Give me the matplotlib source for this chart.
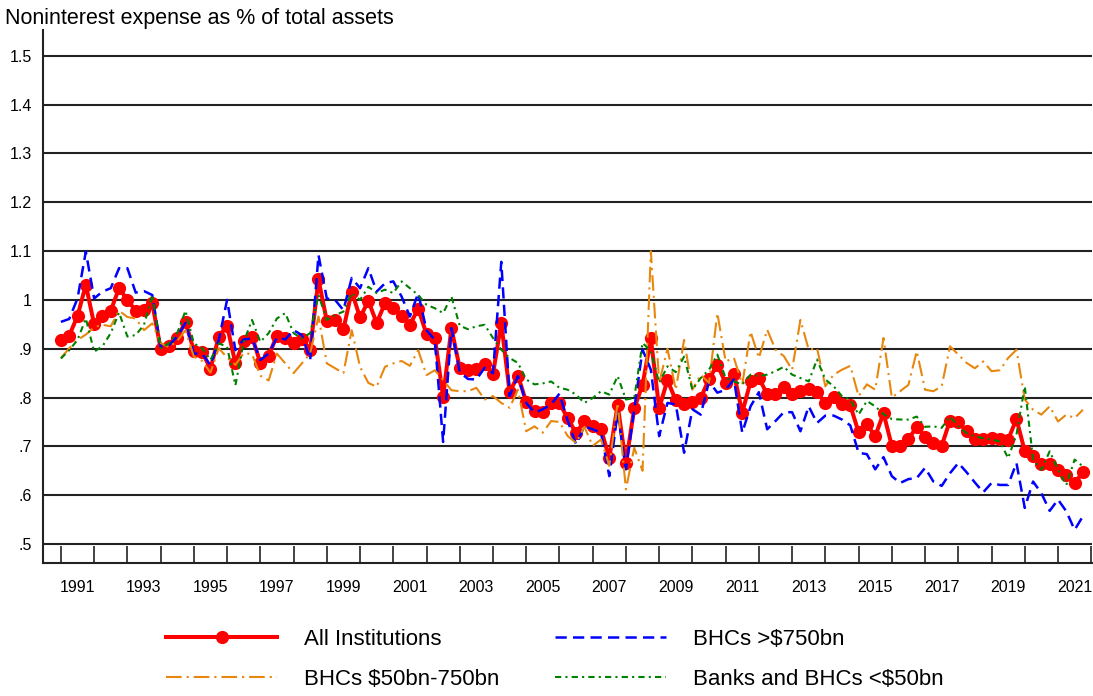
import numpy as np
import matplotlib
matplotlib.use("Agg")
import matplotlib.pyplot as plt

plt.rcParams['font.family'] = ['Liberation Sans', 'DejaVu Sans']

# quarterly data, 1991Q1 - 2021Q4
all_inst = [0.918, 0.927, 0.967, 1.031, 0.950, 0.968, 0.978, 1.024, 1.000, 0.978, 0.979, 0.993,
            0.900, 0.905, 0.923, 0.955, 0.896, 0.893, 0.859, 0.925, 0.947, 0.870, 0.916, 0.925,
            0.871, 0.886, 0.927, 0.923, 0.911, 0.919, 0.898, 1.042, 0.957, 0.959, 0.940, 1.017,
            0.964, 0.998, 0.953, 0.993, 0.983, 0.968, 0.949, 0.982, 0.930, 0.923, 0.801, 0.942,
            0.860, 0.856, 0.859, 0.868, 0.848, 0.953, 0.811, 0.845, 0.791, 0.773, 0.771, 0.788,
            0.788, 0.758, 0.727, 0.752, 0.742, 0.735, 0.676, 0.785, 0.665, 0.778, 0.826, 0.921,
            0.778, 0.836, 0.794, 0.786, 0.790, 0.799, 0.838, 0.867, 0.830, 0.849, 0.769, 0.833,
            0.840, 0.807, 0.807, 0.821, 0.807, 0.814, 0.818, 0.811, 0.789, 0.801, 0.787, 0.784,
            0.729, 0.745, 0.721, 0.768, 0.701, 0.700, 0.716, 0.739, 0.720, 0.707, 0.701, 0.753,
            0.749, 0.732, 0.715, 0.715, 0.717, 0.715, 0.714, 0.756, 0.690, 0.681, 0.664, 0.664,
            0.651, 0.642, 0.625, 0.647]

bhc_large = [0.955, 0.961, 1.003, 1.099, 1.003, 1.017, 1.024, 1.065, 1.065, 1.015, 1.018, 1.010,
             0.904, 0.907, 0.925, 0.953, 0.890, 0.890, 0.866, 0.918, 1.000, 0.897, 0.919, 0.921,
             0.877, 0.890, 0.923, 0.919, 0.938, 0.928, 0.877, 1.092, 1.003, 1.000, 0.979, 1.045,
             1.024, 1.065, 1.017, 1.034, 1.038, 1.007, 0.966, 1.014, 0.938, 0.918, 0.709, 0.942,
             0.852, 0.838, 0.837, 0.861, 0.850, 1.078, 0.803, 0.844, 0.789, 0.769, 0.776, 0.786,
             0.808, 0.752, 0.704, 0.741, 0.735, 0.728, 0.639, 0.769, 0.653, 0.776, 0.898, 0.857,
             0.721, 0.789, 0.786, 0.687, 0.776, 0.765, 0.833, 0.810, 0.816, 0.837, 0.728, 0.782,
             0.811, 0.735, 0.752, 0.770, 0.770, 0.731, 0.782, 0.748, 0.763, 0.763, 0.755, 0.743,
             0.687, 0.684, 0.653, 0.678, 0.639, 0.625, 0.633, 0.635, 0.656, 0.628, 0.619, 0.645,
             0.666, 0.647, 0.626, 0.606, 0.625, 0.621, 0.621, 0.666, 0.574, 0.628, 0.604, 0.568,
             0.591, 0.567, 0.529, 0.557]

bhc_mid = [0.881, 0.901, 0.918, 0.929, 0.944, 0.949, 0.946, 0.978, 0.965, 0.962, 0.938, 0.952,
           0.912, 0.903, 0.916, 0.938, 0.884, 0.875, 0.851, 0.901, 0.882, 0.867, 0.891, 0.889,
           0.845, 0.835, 0.890, 0.870, 0.850, 0.870, 0.890, 0.966, 0.870, 0.860, 0.850, 0.938,
           0.863, 0.830, 0.822, 0.863, 0.870, 0.875, 0.865, 0.897, 0.846, 0.856, 0.836, 0.815,
           0.813, 0.813, 0.820, 0.796, 0.803, 0.789, 0.779, 0.816, 0.731, 0.741, 0.728, 0.752,
           0.750, 0.721, 0.707, 0.740, 0.701, 0.714, 0.660, 0.789, 0.612, 0.697, 0.650, 1.100,
           0.830, 0.900, 0.816, 0.918, 0.816, 0.847, 0.830, 0.973, 0.874, 0.881, 0.827, 0.935,
           0.881, 0.939, 0.898, 0.885, 0.857, 0.959, 0.898, 0.901, 0.823, 0.847, 0.857, 0.865,
           0.803, 0.827, 0.816, 0.922, 0.800, 0.813, 0.826, 0.895, 0.816, 0.813, 0.823, 0.905,
           0.888, 0.871, 0.860, 0.874, 0.854, 0.856, 0.881, 0.898, 0.796, 0.775, 0.765, 0.782,
           0.751, 0.765, 0.758, 0.775]

small_banks = [0.880, 0.897, 0.918, 0.962, 0.894, 0.905, 0.932, 0.974, 0.925, 0.928, 0.949, 1.010,
               0.901, 0.911, 0.932, 0.978, 0.911, 0.901, 0.877, 0.911, 0.904, 0.825, 0.914, 0.959,
               0.914, 0.932, 0.962, 0.973, 0.932, 0.921, 0.932, 1.010, 0.959, 0.969, 0.976, 1.014,
               1.000, 1.027, 1.014, 1.021, 1.014, 1.038, 1.024, 1.010, 0.990, 0.983, 0.973, 1.007,
               0.947, 0.940, 0.946, 0.949, 0.922, 0.898, 0.881, 0.871, 0.837, 0.827, 0.829, 0.833,
               0.820, 0.816, 0.806, 0.789, 0.799, 0.813, 0.806, 0.844, 0.796, 0.799, 0.912, 0.895,
               0.830, 0.864, 0.852, 0.884, 0.816, 0.840, 0.857, 0.888, 0.840, 0.833, 0.827, 0.847,
               0.844, 0.847, 0.854, 0.863, 0.847, 0.840, 0.833, 0.878, 0.837, 0.823, 0.803, 0.796,
               0.765, 0.793, 0.782, 0.766, 0.756, 0.755, 0.755, 0.761, 0.740, 0.741, 0.738, 0.761,
               0.741, 0.727, 0.720, 0.717, 0.714, 0.710, 0.676, 0.724, 0.823, 0.673, 0.652, 0.690,
               0.652, 0.621, 0.673, 0.659]

start_year = 1991
year_labels = [str(y) for y in range(1991, 2022, 2)]
ytick_vals = [0.5, 0.6, 0.7, 0.8, 0.9, 1.0, 1.1, 1.2, 1.3, 1.4, 1.5]
ytick_labels = ['.5', '.6', '.7', '.8', '.9', '1', '1.1', '1.2', '1.3', '1.4', '1.5']

x = start_year + np.arange(len(all_inst)) / 4.0

fig = plt.figure(figsize=(10.93, 6.96), dpi=100)
ax = fig.add_axes([0.0393, 0.191, 0.9597, 0.766])

for v in ytick_vals:
    ax.axhline(v, color='#222222', lw=1.5, zorder=1)

red, = ax.plot(x, all_inst, color='#ff0000', lw=2.9, marker='o', ms=9.5,
               markeredgewidth=0, label='All Institutions', zorder=3)
blue, = ax.plot(x, bhc_large, color='#0000ff', lw=1.8, dashes=(4.5, 2.5),
                label='BHCs >$750bn', zorder=4)
orange, = ax.plot(x, bhc_mid, color='#e8870e', lw=1.5, dashes=(7.5, 2.4, 1.0, 2.4),
                  label='BHCs $50bn-750bn', zorder=4)
green, = ax.plot(x, small_banks, color='#008000', lw=1.5, dashes=(3.0, 2.0, 1.0, 2.0),
                 label='Banks and BHCs <$50bn', zorder=4)

ax.set_xlim(1990.46, 2022.02)
ax.set_ylim(0.461, 1.553)

years = np.arange(1991, 2023)
ax.set_xticks(years)
ax.set_xticklabels([])
ax.set_xticks([int(y) + 0.5 for y in year_labels], minor=True)
ax.set_xticklabels(year_labels, minor=True)
ax.tick_params(axis='x', which='major', direction='in', length=12, width=1.2, color='#222222')
ax.tick_params(axis='x', which='minor', length=0, pad=12, labelsize=11.5)

ax.set_yticks(ytick_vals)
ax.set_yticklabels(ytick_labels)
ax.tick_params(axis='y', length=0, pad=8, labelsize=11.5)

for s in ['top', 'right']:
    ax.spines[s].set_visible(False)
for s in ['left', 'bottom']:
    ax.spines[s].set_linewidth(1.5)
    ax.spines[s].set_color('#222222')

fig.text(0.005, 0.974, 'Noninterest expense as % of total assets', fontsize=15.5,
         ha='left', va='center')

fig.legend(handles=[red, orange, blue, green], ncol=2, loc='upper left',
           bbox_to_anchor=(0.152, 0.096), frameon=False, fontsize=16,
           handlelength=5.0, handletextpad=1.2, columnspacing=2.5, labelspacing=0.85,
           borderpad=0, borderaxespad=0)

fig.savefig('out.png', dpi=100)
